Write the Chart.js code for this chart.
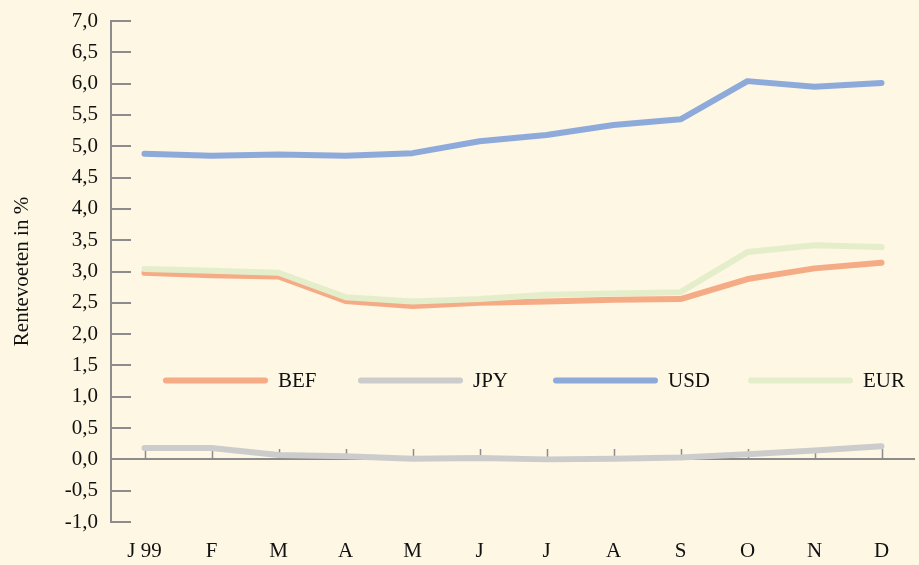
<!doctype html>
<html>
<head>
<meta charset="utf-8">
<title>Rentevoeten</title>
<script src="https://cdn.jsdelivr.net/npm/chart.js@4/dist/chart.umd.min.js"></script>
<style>
  html, body { margin: 0; padding: 0; background: #fdf7e3; }
  #wrap { width: 919px; height: 565px; }
</style>
</head>
<body>
<div id="wrap"><canvas id="myChart" width="919" height="565"></canvas></div>
<script>
    // maanden 1999
    var months = ['J 99', 'F', 'M', 'A', 'M', 'J', 'J', 'A', 'S', 'O', 'N', 'D'];

    var bef = [2.98, 2.94, 2.92, 2.53, 2.45, 2.50, 2.52, 2.55, 2.56, 2.88, 3.05, 3.14];
    var jpy = [0.18, 0.18, 0.07, 0.05, 0.01, 0.02, 0.00, 0.01, 0.03, 0.08, 0.14, 0.21];
    var usd = [4.88, 4.85, 4.87, 4.85, 4.89, 5.08, 5.18, 5.34, 5.43, 6.04, 5.95, 6.01];
    var eur = [3.04, 3.01, 2.98, 2.59, 2.52, 2.56, 2.63, 2.65, 2.67, 3.31, 3.42, 3.39];

    var axisColor = '#8c8c8c';
    var textFont = { family: '"Liberation Serif", "Times New Roman", serif', size: 21 };

    function lineSet(label, data, color, order) {
        return {
            label: label,
            data: data,
            borderColor: color,
            backgroundColor: color,
            borderWidth: 6,
            pointRadius: 0,
            tension: 0,
            borderCapStyle: 'round',
            borderJoinStyle: 'round',
            order: order
        };
    }

    // korte streepjes op de assen + nullijn
    var axisMarks = {
        id: 'axisMarks',
        beforeDatasetsDraw: function (chart) {
            var ctx = chart.ctx;
            var x = chart.scales.x, y = chart.scales.y;
            var area = chart.chartArea;
            ctx.save();
            ctx.strokeStyle = axisColor;
            ctx.lineWidth = 2;
            ctx.beginPath();
            y.ticks.forEach(function (t) {
                var py = Math.round(y.getPixelForValue(t.value));
                ctx.moveTo(area.left, py);
                ctx.lineTo(area.left + 20, py);
            });
            var zero = Math.round(y.getPixelForValue(0));
            ctx.moveTo(area.left, zero);
            ctx.lineTo(area.right, zero);
            ctx.stroke();
            ctx.lineWidth = 1.5;
            ctx.beginPath();
            months.forEach(function (m, i) {
                var px = Math.round(x.getPixelForValue(i)) + 0.5;
                ctx.moveTo(px, zero);
                ctx.lineTo(px, zero - 10);
            });
            ctx.stroke();
            ctx.restore();
        }
    };

    // legende binnen de grafiek
    var innerLegend = {
        id: 'innerLegend',
        afterDraw: function (chart) {
            var ctx = chart.ctx;
            var area = chart.chartArea;
            var ly = chart.scales.y.getPixelForValue(1.26);
            ctx.save();
            ctx.font = textFont.size + 'px ' + textFont.family;
            ctx.textBaseline = 'middle';
            ctx.textAlign = 'left';
            chart.data.datasets.forEach(function (ds, i) {
                var x0 = area.left + 52 + i * 195;
                ctx.strokeStyle = ds.borderColor;
                ctx.lineWidth = 6;
                ctx.lineCap = 'round';
                ctx.beginPath();
                ctx.moveTo(x0 + 3, ly);
                ctx.lineTo(x0 + 102, ly);
                ctx.stroke();
                ctx.fillStyle = '#111';
                ctx.fillText(ds.label, x0 + 115, ly + 1);
            });
            ctx.restore();
        }
    };

    var ctx = document.getElementById('myChart').getContext('2d');
    var myChart = new Chart(ctx, {
        type: 'line',
        data: {
            labels: months,
            datasets: [
                lineSet('BEF', bef, '#f5ab85', 1),
                lineSet('JPY', jpy, '#cccccc', 1),
                lineSet('USD', usd, '#8eaadb', 1),
                lineSet('EUR', eur, '#e5eecb', 0)
            ]
        },
        options: {
            responsive: false,
            animation: false,
            layout: { padding: { top: 21, right: 4, left: 0, bottom: 0 } },
            plugins: {
                legend: { display: false },
                tooltip: { enabled: false }
            },
            scales: {
                x: {
                    offset: true,
                    grid: { display: false, drawTicks: false },
                    border: { display: false },
                    ticks: { color: '#111', font: textFont, padding: 17, maxRotation: 0, autoSkip: false },
                    afterFit: function (s) { s.height = 43; s.paddingLeft = 0; s.paddingRight = 0; }
                },
                y: {
                    min: -1,
                    max: 7,
                    grid: { drawOnChartArea: false, drawTicks: false },
                    border: { display: true, color: axisColor, width: 2 },
                    ticks: {
                        stepSize: 0.5,
                        color: '#111',
                        font: textFont,
                        padding: 13,
                        callback: function (v) { return v.toFixed(1).replace('.', ','); }
                    },
                    title: {
                        display: true,
                        text: 'Rentevoeten in %',
                        color: '#111',
                        font: { family: textFont.family, size: 21 },
                        padding: { top: 10, bottom: 0 }
                    },
                    afterFit: function (s) { s.width = 111; s.paddingTop = 0; s.paddingBottom = 0; }
                }
            }
        },
        plugins: [axisMarks, innerLegend]
    });
</script>
</body>
</html>
